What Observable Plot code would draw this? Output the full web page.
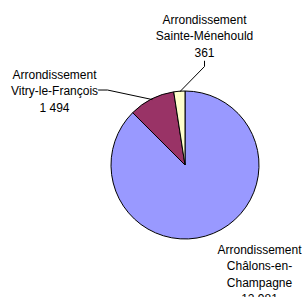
<!DOCTYPE html>
<html>
<head>
<meta charset="utf-8">
<script src="https://cdn.jsdelivr.net/npm/d3@7"></script>
<script src="https://cdn.jsdelivr.net/npm/@observablehq/plot@0.6"></script>
<style>
  html, body { margin: 0; padding: 0; background: #fff; }
  #chart svg { display: block; }
</style>
</head>
<body>
<div id="chart"></div>
<script>
// ---- Data ----
const categories = ["Châlons-en-Champagne", "Vitry-le-François", "Sainte-Ménehould"];
const values = [12981, 1494, 361];
const valueLabels = ["12 981", "1 494", "361"];
const labelTexts = [
  "Arrondissement\nChâlons-en-\nChampagne\n12 981",
  "Arrondissement\nVitry-le-François\n1 494",
  "Arrondissement\nSainte-Ménehould\n361"
];
const colors = ["#9999FF", "#993366", "#FFFFCC"];

// ---- Layout (units of pie radius, origin at pie centre, y downward) ----
const W = 302, H = 297, CX = 185, CY = 165, R = 74;
const labelPos = [[1.0, 1.453], [-1.77, -1.02], [0.257, -1.764]];
// leader: [start, elbow] per slice (null = no leader)
const leaderStart = [null, [[-1.176, -1.02], [-1.054, -1.02]], [[0.257, -1.41], [0.257, -1.338]]];

const arcs = d3.pie().sort(null).value(d => d)(values);
const slices = arcs.map((a, i) => ({ name: categories[i], value: values[i], start: a.startAngle, end: a.endAngle, color: colors[i] }));

const leaderPts = [];
slices.forEach((s, i) => {
  if (!leaderStart[i]) return;
  const mid = (s.start + s.end) / 2;
  const pts = [...leaderStart[i], [Math.sin(mid), -Math.cos(mid)]];
  pts.forEach(([x, y]) => leaderPts.push({ z: s.name, x, y }));
});

const labels = slices.map((s, i) => ({ text: labelTexts[i], x: labelPos[i][0], y: labelPos[i][1] }));

const pieMark = (index, scales) => {
  const x0 = scales.x(0), y0 = scales.y(0), r = scales.x(1) - x0;
  const g = d3.create("svg:g").attr("transform", `translate(${x0},${y0})`);
  const arc = d3.arc().innerRadius(0).outerRadius(r);
  g.selectAll("path").data(slices).join("path")
    .attr("d", d => arc({ startAngle: d.start, endAngle: d.end }))
    .attr("fill", d => d.color)
    .attr("stroke", "#000")
    .attr("stroke-width", 1)
    .attr("stroke-linejoin", "round");
  return g.node();
};

const chart = Plot.plot({
  width: W,
  height: H,
  margin: 0,
  style: { background: "#fff", fontFamily: "'Liberation Sans', Arial, sans-serif" },
  x: { type: "linear", domain: [-CX / R, (W - CX) / R], range: [0, W], axis: null },
  y: { type: "linear", domain: [-CY / R, (H - CY) / R], range: [0, H], axis: null },
  marks: [
    pieMark,
    Plot.line(leaderPts, { x: "x", y: "y", z: "z", stroke: "#000", strokeWidth: 1, curve: "linear" }),
    Plot.text(labels, {
      x: "x", y: "y", text: "text",
      fontSize: 12, lineHeight: 1.375, textAnchor: "middle", fill: "#000",
      fontFamily: "'Liberation Sans', Arial, sans-serif"
    })
  ]
});
document.getElementById("chart").append(chart);
</script>
</body>
</html>
